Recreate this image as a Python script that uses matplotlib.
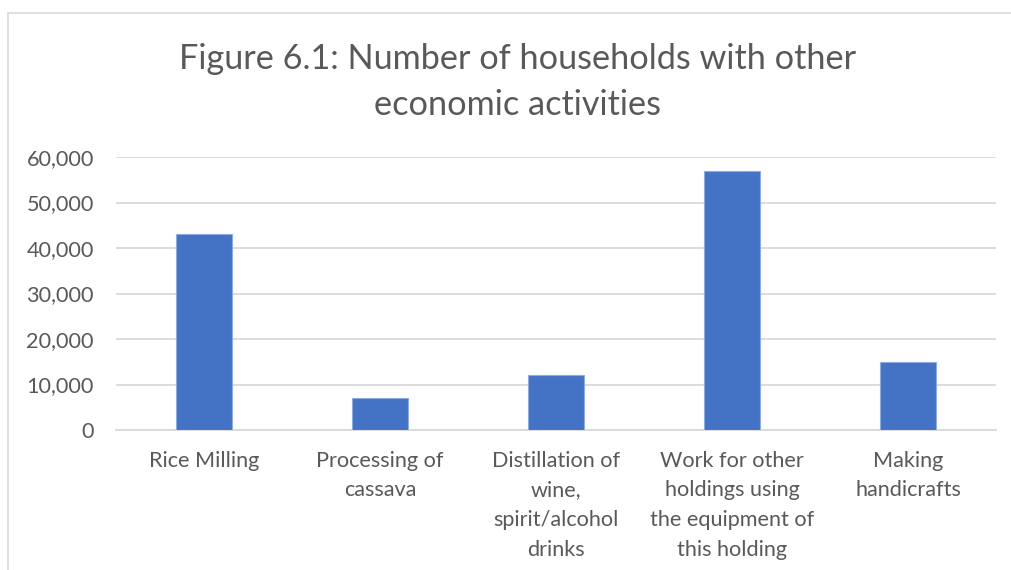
import matplotlib
matplotlib.use("Agg")
import matplotlib.pyplot as plt
from matplotlib.patches import Rectangle
from matplotlib.ticker import FuncFormatter

categories = ["Rice Milling", "Processing of\ncassava", "Distillation of\nwine,\nspirit/alcohol\ndrinks",
              "Work for other\nholdings using\nthe equipment of\nthis holding", "Making\nhandicrafts"]
values = [43000, 7000, 12000, 57000, 15000]
yticks = [0, 10000, 20000, 30000, 40000, 50000, 60000]
title = "Figure 6.1: Number of households with other\neconomic activities"

plt.rcParams['font.family'] = ['Lato', 'DejaVu Sans']
txt = "#595959"

fig = plt.figure(figsize=(10.11, 5.70), dpi=100)
ax = fig.add_axes([116/1011, 1 - 430/570, 880/1011, 273/570])

x = list(range(len(categories)))
ax.bar(x, values, width=0.313, color="#4472c4", edgecolor="#8faadc", linewidth=0.8, zorder=3)
ax.set_xlim(-0.5, len(categories) - 0.5)
ax.set_ylim(0, 60000)
ax.set_yticks(yticks)
ax.yaxis.set_major_formatter(FuncFormatter(lambda v, p: f"{int(v):,}"))
ax.grid(axis="y", color="#d9d9d9", linewidth=1.3, zorder=0)
for s in ["top", "right", "left"]:
    ax.spines[s].set_visible(False)
ax.spines["bottom"].set_color("#d9d9d9")
ax.spines["bottom"].set_linewidth(1.3)
ax.set_xticks(x)
ax.set_xticklabels(categories, fontsize=15.6, color=txt, linespacing=1.6, va="top")
ax.tick_params(axis="x", length=0, pad=15)
ax.tick_params(axis="y", length=0, pad=16, labelsize=15.6, labelcolor=txt)

fig.suptitle(title, x=(178+858)/2/1011, y=1 - 43/570, fontsize=24.7, color=txt, linespacing=1.55, va="top")

fig.patches.append(Rectangle((8/1011, -0.1), 1.2, 1 - 13/570 + 0.1, transform=fig.transFigure,
                             fill=False, edgecolor="#d9d9d9", linewidth=1.2))

fig.savefig("out.png", dpi=100)
